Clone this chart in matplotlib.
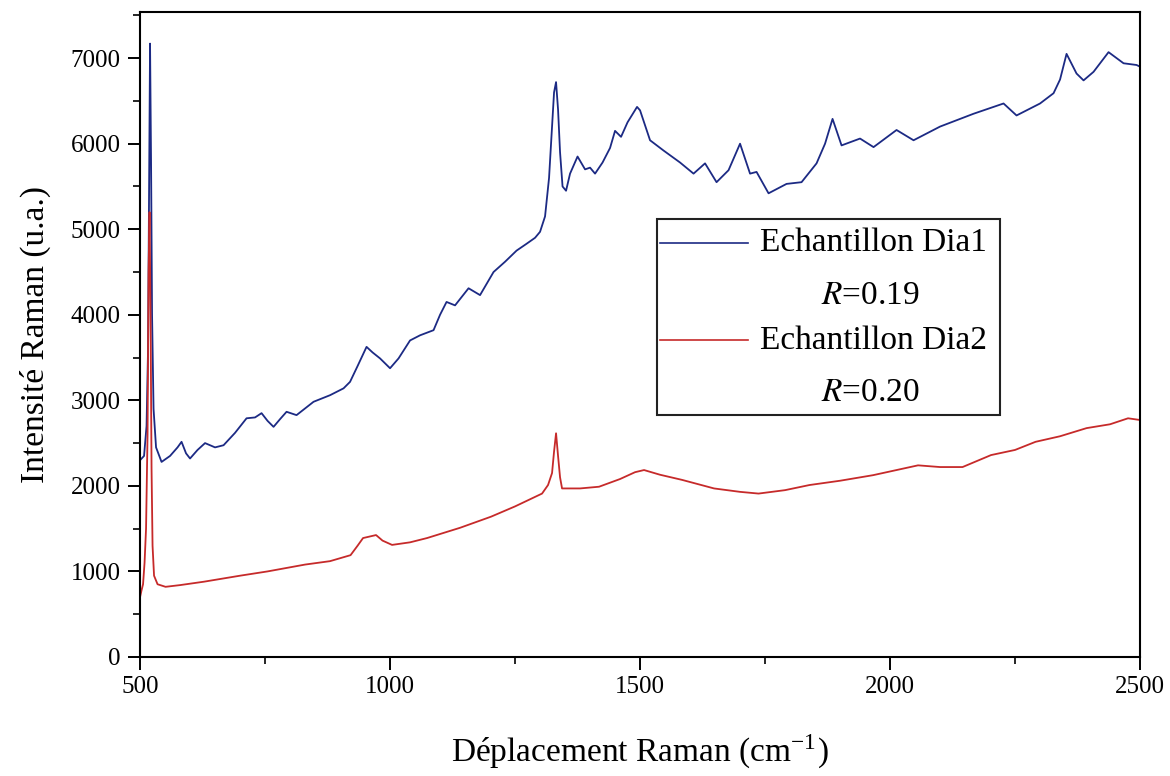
import matplotlib.pyplot as plt
from matplotlib.patches import Rectangle
from matplotlib.ticker import MultipleLocator

plt.rcParams['font.family'] = ['Liberation Serif', 'DejaVu Serif']
plt.rcParams['mathtext.fontset'] = 'stix'

# spectre Dia1 (bleu)
x_dia1 = [500, 508, 513, 516, 518, 520, 522, 524, 527, 532,
          543, 560, 575, 583, 592, 600, 615, 630, 650, 667,
          690, 713, 730, 743, 755, 767, 780, 793, 813, 847,
          880, 907, 920, 935, 953, 965, 980, 1000, 1017, 1040,
          1060, 1087, 1100, 1113, 1130, 1157, 1180, 1207, 1230, 1253,
          1273, 1290, 1300, 1310, 1318, 1324, 1328, 1332, 1336, 1340,
          1345, 1352, 1360, 1375, 1390, 1400, 1410, 1425, 1440, 1450,
          1462, 1475, 1494, 1500, 1520, 1547, 1580, 1607, 1630, 1653,
          1677, 1700, 1720, 1733, 1757, 1793, 1823, 1853, 1870, 1885,
          1903, 1940, 1967, 2013, 2047, 2100, 2167, 2227, 2253, 2300,
          2327, 2340, 2353, 2373, 2387, 2407, 2437, 2467, 2493, 2500]
y_dia1 = [2300, 2350, 2700, 3600, 5400, 7170, 5800, 4000, 2900, 2450,
          2280, 2350, 2450, 2515, 2380, 2320, 2420, 2500, 2450, 2475,
          2620, 2790, 2800, 2850, 2760, 2690, 2780, 2866, 2827, 2983,
          3060, 3140, 3216, 3400, 3625, 3560, 3490, 3375, 3490, 3700,
          3760, 3820, 4000, 4150, 4110, 4310, 4230, 4500, 4620, 4750,
          4830, 4900, 4970, 5150, 5600, 6200, 6600, 6720, 6400, 5900,
          5500, 5450, 5650, 5850, 5700, 5720, 5650, 5780, 5950, 6150,
          6080, 6250, 6430, 6390, 6040, 5920, 5780, 5650, 5770, 5550,
          5690, 6000, 5650, 5670, 5420, 5530, 5550, 5770, 6000, 6290,
          5980, 6060, 5960, 6160, 6040, 6200, 6350, 6470, 6330, 6470,
          6590, 6750, 7050, 6820, 6740, 6840, 7070, 6940, 6920, 6900]

# spectre Dia2 (rouge)
x_dia2 = [500, 503, 506, 509, 512, 515, 517, 519, 521, 523,
          525, 528, 535, 551, 580, 628, 700, 755, 830, 880,
          921, 935, 946, 972, 985, 1004, 1040, 1074, 1140, 1202,
          1250, 1304, 1316, 1324, 1328, 1332, 1336, 1340, 1344, 1380,
          1418, 1460, 1490, 1508, 1540, 1584, 1648, 1700, 1737, 1790,
          1839, 1900, 1966, 2056, 2100, 2145, 2202, 2250, 2291, 2340,
          2393, 2440, 2476, 2500]
y_dia2 = [700, 780, 850, 1100, 1500, 2600, 4500, 5200, 4000, 2200,
          1300, 950, 850, 820, 840, 880, 950, 1000, 1080, 1120,
          1190, 1300, 1390, 1425, 1360, 1310, 1340, 1390, 1510, 1640,
          1760, 1910, 2010, 2150, 2400, 2615, 2350, 2100, 1970, 1970,
          1990, 2080, 2160, 2185, 2130, 2070, 1970, 1930, 1910, 1950,
          2010, 2060, 2125, 2240, 2220, 2220, 2360, 2420, 2515, 2580,
          2675, 2720, 2790, 2770]

labels = ['Echantillon Dia1', 'Echantillon Dia2']
r_values = ['0.19', '0.20']
colors = ['#1c2a84', '#c62a2a']

fig = plt.figure(figsize=(11.7, 7.76), dpi=100)
ax = fig.add_axes([0.1197, 0.1534, 0.8547, 0.8312])

ax.plot(x_dia1, y_dia1, color=colors[0], lw=1.3)
ax.plot(x_dia2, y_dia2, color=colors[1], lw=1.3)

ax.set_xlim(500, 2500)
ax.set_ylim(0, 7540)
ax.xaxis.set_major_locator(MultipleLocator(500))
ax.xaxis.set_minor_locator(MultipleLocator(250))
ax.yaxis.set_major_locator(MultipleLocator(1000))
ax.yaxis.set_minor_locator(MultipleLocator(500))
ax.tick_params(which='major', direction='out', length=9, width=1.4, labelsize=18, pad=5)
ax.tick_params(which='minor', direction='out', length=5, width=1.2)
ax.tick_params(top=False, right=False)
for s in ax.spines.values():
    s.set_linewidth(1.5)

ax.set_xlabel('Déplacement Raman (cm$^{\\mathregular{-1}}$)', fontsize=24, labelpad=24)
ax.set_ylabel('Intensité Raman (u.a.)', fontsize=24, labelpad=14)

# legende dessinee a la main (lignes R= centrees)
ax.add_patch(Rectangle((0.517, 0.375), 0.343, 0.304, transform=ax.transAxes,
                       fill=False, lw=1.5, edgecolor='#222222'))
rows = [0.642, 0.491]
for i in range(2):
    ax.plot([0.52, 0.608], [rows[i], rows[i]], transform=ax.transAxes, color=colors[i], lw=1.2)
    ax.text(0.62, rows[i], labels[i], transform=ax.transAxes, fontsize=24, va='center', ha='left')
    ax.text(0.73, rows[i] - 0.082, '$\\mathit{R}$=' + r_values[i], transform=ax.transAxes,
            fontsize=24, va='center', ha='center')

fig.savefig('out.png', dpi=100)
